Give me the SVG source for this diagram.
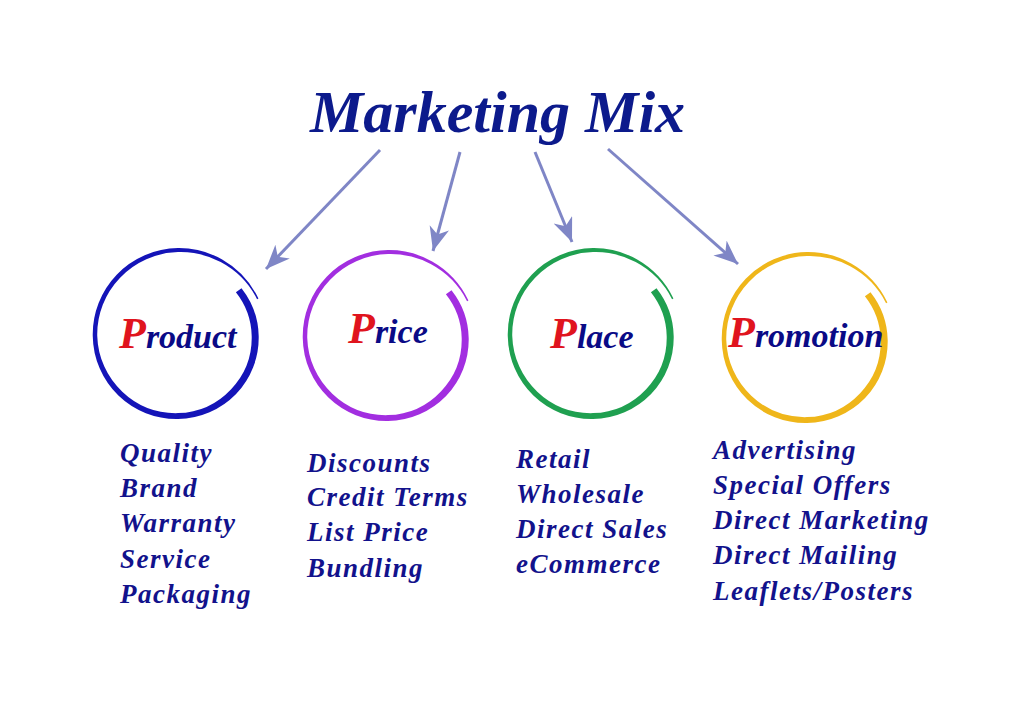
<svg xmlns="http://www.w3.org/2000/svg" xmlns:xlink="http://www.w3.org/1999/xlink" width="1023" height="709" viewBox="0 0 1023 709">
<style>
.title{font-family:"Liberation Serif",serif;font-style:italic;font-weight:bold;font-size:60px;fill:#0c1a8c}
.lbl{font-family:"Liberation Serif",serif;font-style:italic;font-weight:bold;font-size:34px;fill:#0a0a86}
.lbl .p{font-size:44px;fill:#e0141e}
.list{font-family:"Liberation Serif",serif;font-style:italic;font-weight:bold;font-size:27px;fill:#12128c;letter-spacing:1.5px}
.conn{stroke:#7f86c6;stroke-width:3;fill:none}
.ring{fill:currentColor;stroke:none}
</style>
<defs>
<marker id="ah" markerUnits="userSpaceOnUse" markerWidth="26" markerHeight="22" refX="24" refY="10" orient="auto">
<path d="M0,0 L24,10 L0,20 L7,10 Z" fill="#7f86c6"/>
</marker>
<path id="ring" class="ring" d="M63.49,-47.84 A80,80 0 0 1 80.69,0 A81.4,81.4 0 0 1 58.09,58.09 A82.6,82.6 0 0 1 0,83.1 A83.7,83.7 0 0 1 -59.61,59.61 A84.8,84.8 0 0 1 -85.25,0 A86,86 0 0 1 -61.31,-61.31 A87.3,87.3 0 0 1 0,-87.9 A88.1,88.1 0 0 1 44.19,-76.53 A88.6,88.6 0 0 1 80.43,-37.51 L79.07,-36.87 A86.3,86.3 0 0 0 42.69,-73.93 A84.6,84.6 0 0 0 0,-83.9 A83,83 0 0 0 -58.12,-58.12 A81.5,81.5 0 0 0 -80.75,0 A79.8,79.8 0 0 0 -55.72,55.72 A78,78 0 0 0 0,77.1 A76.1,76.1 0 0 0 53.14,53.14 A74.4,74.4 0 0 0 73.69,0 A73.1,73.1 0 0 0 57.90,-43.63 Z"/>
</defs>
<rect width="1023" height="709" fill="#ffffff"/>

<g id="title">
<text class="title" x="310" y="132">Marketing Mix</text>
</g>

<g id="connectors">
<line class="conn" x1="380" y1="150" x2="266" y2="269" marker-end="url(#ah)"/>
<line class="conn" x1="460" y1="152" x2="433" y2="251" marker-end="url(#ah)"/>
<line class="conn" x1="535" y1="152" x2="572" y2="242" marker-end="url(#ah)"/>
<line class="conn" x1="608" y1="149" x2="738" y2="264" marker-end="url(#ah)"/>
</g>

<g id="product">
<use href="#ring" xlink:href="#ring" x="178" y="336" style="color:#1414b8"/>
<text class="lbl" x="119" y="348"><tspan class="p">P</tspan>roduct</text>
<text class="list" x="120" y="462">Quality</text>
<text class="list" x="120" y="497">Brand</text>
<text class="list" x="120" y="532">Warranty</text>
<text class="list" x="120" y="568">Service</text>
<text class="list" x="120" y="603">Packaging</text>
</g>

<g id="price">
<use href="#ring" xlink:href="#ring" x="388" y="338" style="color:#a22ee0"/>
<text class="lbl" x="348" y="343"><tspan class="p">P</tspan>rice</text>
<text class="list" x="307" y="472">Discounts</text>
<text class="list" x="307" y="506">Credit Terms</text>
<text class="list" x="307" y="541">List Price</text>
<text class="list" x="307" y="577">Bundling</text>
</g>

<g id="place">
<use href="#ring" xlink:href="#ring" x="593" y="336" style="color:#1fa050"/>
<text class="lbl" x="550" y="348"><tspan class="p">P</tspan>lace</text>
<text class="list" x="516" y="468">Retail</text>
<text class="list" x="516" y="503">Wholesale</text>
<text class="list" x="516" y="538">Direct Sales</text>
<text class="list" x="516" y="573">eCommerce</text>
</g>

<g id="promotion">
<use href="#ring" xlink:href="#ring" x="807" y="340" style="color:#efb61a"/>
<text class="lbl" x="728" y="347"><tspan class="p">P</tspan>romotion</text>
<text class="list" x="713" y="459">Advertising</text>
<text class="list" x="713" y="494">Special Offers</text>
<text class="list" x="713" y="529">Direct Marketing</text>
<text class="list" x="713" y="564">Direct Mailing</text>
<text class="list" x="713" y="600">Leaflets/Posters</text>
</g>
</svg>
